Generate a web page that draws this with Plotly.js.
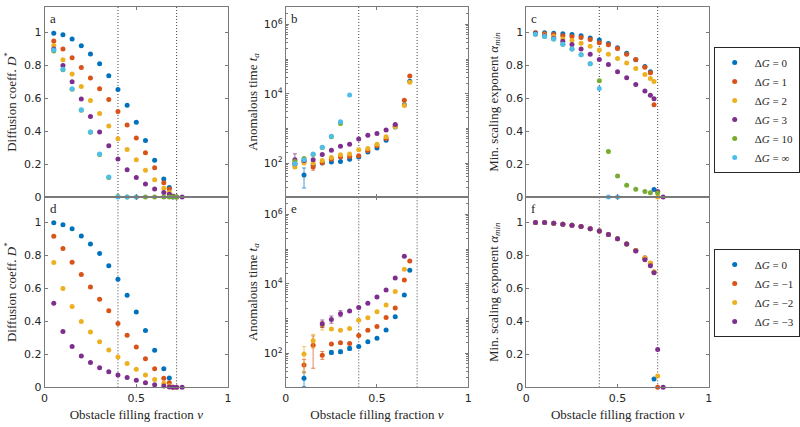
<!DOCTYPE html>
<html>
<head>
<meta charset="utf-8">
<script src="https://cdn.plot.ly/plotly-3.0.1.min.js"></script>
<style>html,body{margin:0;padding:0;background:#fff;}#chart{width:800px;height:427px;}</style>
</head>
<body>
<div id="chart"></div>
<script>
// ---- data ----
const nu = [0.05,0.1,0.15,0.2,0.25,0.3,0.35,0.4,0.45,0.5,0.55,0.6,0.65,0.68,0.7,0.72,0.75];
const thresholds = [0.4, 0.72];

const posLabels = ['Δ<i>G</i> = 0','Δ<i>G</i> = 1','Δ<i>G</i> = 2','Δ<i>G</i> = 3','Δ<i>G</i> = 10','Δ<i>G</i> = ∞'];
const negLabels = ['Δ<i>G</i> = 0','Δ<i>G</i> = −1','Δ<i>G</i> = −2','Δ<i>G</i> = −3'];
const colors = ['#0072BD','#D95319','#EDB120','#7E2F8E','#77AC30','#4DBEEE'];

// panel a: D* for positive dG
const DA_0   = [0.995,0.986,0.96,0.919,0.87,0.81,0.737,0.654,0.557,0.455,0.344,0.223,0.109,0.057,0,null,null];
const DA_1   = [0.949,0.90,0.846,0.787,0.723,0.658,0.593,0.52,0.437,0.358,0.269,0.178,0.087,0.049,0.005,null,null];
const DA_2   = [0.921,0.834,0.747,0.672,0.587,0.508,0.431,0.354,0.289,0.227,0.162,0.105,0.053,0.028,0.003,0,null];
const DA_3   = [0.90,0.80,0.70,0.595,0.49,0.395,0.312,0.231,0.166,0.119,0.079,0.049,0.028,0.016,0.004,0,0];
const DA_10  = [0.888,0.774,0.655,0.528,0.393,0.259,0.119,0.003,0,0,0,0,0,0,0,0,null];
const DA_inf = [0.893,0.777,0.658,0.53,0.395,0.261,0.121,0,0,0,null,null,null,null,null,null,null];

// panel b: anomalous time t_a for positive dG
const TB_0   = [95,45,88,100,107,110,129,148,209,269,457,1100,4800,22900,null,null,null];
const TB_1   = [90,112,77,102,129,148,155,162,229,316,513,1200,6460,32400,null,null,null];
const TB_2   = [77,100,100,119,145,174,182,240,263,347,575,1120,4570,21400,null,null,null];
const TB_3   = [124,118,124,177,234,306,347,490,630,708,890,1290,null,null,null,null,null];
const TB_10  = [110,135,175,280,575,1380,null,null,null,null,null,null,null,null,null,null,null];
const TB_inf = [96,124,181,286,590,1550,9100,null,null,null,null,null,null,null,null,null,null];
const TB_3_errPlus  = [60,0,0,0,0,0,0,0,0,0,0,0,0,0,0,0,0];
const TB_3_errMinus = [40,0,0,0,0,0,0,0,0,0,0,0,0,0,0,0,0];
const TB_0_errPlus  = [0,27,0,0,0,0,0,0,0,0,0,0,0,0,0,0,0];
const TB_0_errMinus = [0,26,0,0,0,0,0,0,0,0,0,0,0,0,0,0,0];
const TB_1_errPlus  = [25,0,20,0,0,0,0,0,0,0,0,0,0,0,0,0,0];
const TB_1_errMinus = [20,0,15,0,0,0,0,0,0,0,0,0,0,0,0,0,0];

// panel c: alpha_min for positive dG
const AC_0   = [0.999,0.998,0.996,0.993,0.988,0.98,0.966,0.955,0.933,0.907,0.874,0.834,0.794,0.761,0.045,null,null];
const AC_1   = [0.998,0.992,0.988,0.98,0.976,0.97,0.957,0.937,0.925,0.903,0.868,0.836,0.789,0.755,0.561,null,null];
const AC_2   = [0.998,0.985,0.975,0.96,0.951,0.935,0.917,0.893,0.868,0.842,0.814,0.781,0.745,0.72,0.702,0,null];
const AC_3   = [0.995,0.98,0.965,0.947,0.927,0.899,0.868,0.836,0.806,0.761,0.725,0.684,0.644,0.619,0.597,0.034,0];
const AC_10  = [0.99,0.976,0.96,0.929,0.899,0.864,0.81,0.706,0.277,0.128,0.071,0.047,0.034,0.026,null,0.024,null];
const AC_inf = [0.99,0.976,0.96,0.929,0.899,0.864,0.81,0.66,0,0,null,null,null,null,null,null,null];

// panel d: D* for negative dG
const DD_0  = [0.998,0.986,0.962,0.919,0.870,0.812,0.737,0.656,0.559,0.457,0.344,0.225,0.113,0.057,null,null,null];
const DD_m1 = [0.917,0.842,0.759,0.684,0.609,0.534,0.464,0.387,0.316,0.245,0.174,0.113,0.055,0.028,0,null,null];
const DD_m2 = [0.757,0.60,0.49,0.399,0.336,0.277,0.227,0.184,0.144,0.109,0.075,0.047,0.024,0.01,0,0,null];
const DD_m3 = [0.51,0.338,0.247,0.19,0.15,0.119,0.095,0.075,0.059,0.043,0.028,0.016,0.008,0.002,0,0,0];

// panel e: anomalous time t_a for negative dG
const TE_0  = [null,19,null,null,105,110,137,156,213,272,464,1130,4780,24500,null,null,null];
const TE_m1 = [null,46,170,87,186,200,191,324,457,589,1070,2000,12900,45700,null,null,null];
const TE_m2 = [null,95,229,617,501,457,513,891,1050,1580,2450,6030,26300,null,null,null,null];
const TE_m3 = [null,null,null,708,933,1380,1660,2090,2750,4170,6610,14800,61700,null,null,null,null];
const TE_0_errPlus   = [0,10,0,0,15,15,20,0,0,0,0,0,0,0,0,0,0];
const TE_0_errMinus  = [0,8,0,0,12,12,15,0,0,0,0,0,0,0,0,0,0];
const TE_m1_errPlus  = [0,20,146,25,0,0,0,0,0,0,0,0,0,0,0,0,0];
const TE_m1_errMinus = [0,18,133,20,0,0,0,0,0,0,0,0,0,0,0,0,0];
const TE_m2_errPlus  = [0,60,120,200,0,0,0,0,0,0,0,0,0,0,0,0,0];
const TE_m2_errMinus = [0,68,90,150,0,0,0,0,0,0,0,0,0,0,0,0,0];
const TE_m3_errPlus  = [0,0,0,200,250,300,0,0,0,0,0,0,0,0,0,0,0];
const TE_m3_errMinus = [0,0,0,150,200,250,0,0,0,0,0,0,0,0,0,0,0];

// panel f: alpha_min for negative dG
const AF_0  = [1,1,0.996,0.99,0.984,0.976,0.962,0.948,0.927,0.901,0.869,0.831,0.78,0.75,0.05,null,null];
const AF_m1 = [1,1,0.996,0.99,0.984,0.976,0.962,0.948,0.927,0.901,0.869,0.831,0.786,0.752,0.70,0,null];
const AF_m2 = [1,1,0.996,0.99,0.984,0.976,0.962,0.948,0.927,0.901,0.869,0.829,0.784,0.754,0.70,0.069,null];
const AF_m3 = [1,1,0.996,0.99,0.984,0.976,0.962,0.948,0.927,0.901,0.869,0.828,0.774,0.738,0.695,0.23,0];

const logTickVals = [100, 10000, 1000000];
const logTickText = ['10<sup>2</sup>','10<sup>4</sup>','10<sup>6</sup>'];
const linTickVals = [0,0.2,0.4,0.6,0.8,1];
const linTickText = ['0','0.2','0.4','0.6','0.8','1'];
const xTickVals = [0,0.5,1];
const xTickText = ['0','0.5','1'];

// ---- traces ----
const traces = [];
function addSeries(ys, i, xa, ya, name, legend, showleg, errP, errM) {
  const t = {
    x: nu, y: ys, type: 'scatter', mode: 'markers',
    xaxis: xa, yaxis: ya, name: name, legendgroup: legend + name,
    legend: legend, showlegend: showleg,
    marker: {color: colors[i], size: 5},
    cliponaxis: false
  };
  if (errP) {
    t.error_y = {type: 'data', symmetric: false, array: errP, arrayminus: errM,
                 color: colors[i], thickness: 0.7, width: 2, visible: true};
  }
  traces.push(t);
}
const posA = [DA_0, DA_1, DA_2, DA_3, DA_10, DA_inf];
const posB = [TB_0, TB_1, TB_2, TB_3, TB_10, TB_inf];
const posC = [AC_0, AC_1, AC_2, AC_3, AC_10, AC_inf];
const posBerr = [[TB_0_errPlus,TB_0_errMinus],[TB_1_errPlus,TB_1_errMinus],null,[TB_3_errPlus,TB_3_errMinus],null,null];
for (let i = 0; i < 6; i++) {
  addSeries(posA[i], i, 'x', 'y', posLabels[i], 'legend', false);
  const e = posBerr[i];
  addSeries(posB[i], i, 'x2', 'y2', posLabels[i], 'legend', false, e ? e[0] : null, e ? e[1] : null);
  addSeries(posC[i], i, 'x3', 'y3', posLabels[i], 'legend', true);
}
const negD = [DD_0, DD_m1, DD_m2, DD_m3];
const negE = [TE_0, TE_m1, TE_m2, TE_m3];
const negEerr = [[TE_0_errPlus,TE_0_errMinus],[TE_m1_errPlus,TE_m1_errMinus],[TE_m2_errPlus,TE_m2_errMinus],[TE_m3_errPlus,TE_m3_errMinus]];
const negF = [AF_0, AF_m1, AF_m2, AF_m3];
for (let i = 0; i < 4; i++) {
  addSeries(negD[i], i, 'x4', 'y4', negLabels[i], 'legend2', false);
  addSeries(negE[i], i, 'x5', 'y5', negLabels[i], 'legend2', false, negEerr[i][0], negEerr[i][1]);
  addSeries(negF[i], i, 'x6', 'y6', negLabels[i], 'legend2', true);
}

// ---- layout ----
const W = 800, H = 427;
const colPx = [[45,230],[288.3,472.3],[531,715]];
const rowPx = [[7,197],[197,387.3]];
const serif = 'Liberation Serif, Times New Roman, serif';
const sans = 'DejaVu Sans, Arial, sans-serif';
const axisCol = '#7a7a7a';
const textCol = '#262626';

function xAx(col, row) {
  const ax = {
    domain: [colPx[col][0]/W, colPx[col][1]/W],
    anchor: 'y' + (row*3+col+1 === 1 ? '' : row*3+col+1),
    range: [0, 1], tickvals: xTickVals, ticktext: xTickText,
    showticklabels: row === 1,
    ticks: 'inside', ticklen: 3, tickcolor: axisCol,
    showline: true, linecolor: axisCol, linewidth: 1, mirror: 'ticks',
    showgrid: false, zeroline: false, automargin: false,
    tickfont: {family: sans, size: 11, color: textCol}
  };
  if (row === 1) {
    ax.title = {text: 'Obstacle filling fraction <i>ν</i>', font: {family: serif, size: 13, color: textCol}, standoff: 6};
  }
  return ax;
}
function yAx(col, row) {
  const n = row*3+col+1;
  const base = {
    domain: [1 - rowPx[row][1]/H, 1 - rowPx[row][0]/H],
    anchor: 'x' + (n === 1 ? '' : n),
    ticks: 'inside', ticklen: 3, tickcolor: axisCol,
    showline: true, linecolor: axisCol, linewidth: 1, mirror: 'ticks',
    showgrid: false, zeroline: false, automargin: false,
    tickfont: {family: sans, size: 11, color: textCol}
  };
  if (col === 1) {
    Object.assign(base, {type: 'log', range: [1.02, 6.5], tickvals: logTickVals, ticktext: logTickText,
      minor: {ticks: 'inside', ticklen: 2, tickcolor: axisCol, dtick: 'D1', showgrid: false},
      title: {text: 'Anomalous time <i>t<sub>a</sub></i>', font: {family: serif, size: 13, color: textCol}, standoff: 3}});
  } else if (col === 0) {
    Object.assign(base, {range: [0, 1.155], tickvals: linTickVals, ticktext: linTickText,
      title: {text: 'Diffusion coeff. <i>D</i><sup>*</sup>', font: {family: serif, size: 13, color: textCol}, standoff: 4}});
  } else {
    Object.assign(base, {range: [0, 1.155], tickvals: linTickVals, ticktext: linTickText,
      title: {text: 'Min. scaling exponent <i>α<sub>min</sub></i>', font: {family: serif, size: 13, color: textCol}, standoff: 4}});
  }
  return base;
}

const legendStyle = {xanchor: 'left', yanchor: 'top',
  bgcolor: '#fff', bordercolor: '#262626', borderwidth: 1,
  font: {family: serif, size: 11, color: textCol}, tracegroupgap: 0, itemwidth: 30};
const layout = {
  width: W, height: H,
  margin: {l: 0, r: 0, t: 0, b: 0},
  paper_bgcolor: '#fff', plot_bgcolor: '#fff',
  showlegend: true,
  legend: Object.assign({x: 720/W, y: 1 - 47/H}, legendStyle),
  legend2: Object.assign({x: 720/W, y: 1 - 249/H}, legendStyle),
  shapes: [], annotations: []
};
const letters = ['a','b','c','d','e','f'];
for (let row = 0; row < 2; row++) {
  for (let col = 0; col < 3; col++) {
    const n = row*3+col+1;
    const s = n === 1 ? '' : String(n);
    layout['xaxis' + s] = xAx(col, row);
    layout['yaxis' + s] = yAx(col, row);
    thresholds.forEach(th => {
      layout.shapes.push({type: 'line', xref: 'x' + s, yref: 'y' + s + ' domain',
        x0: th, x1: th, y0: 0, y1: 1, line: {color: '#444', width: 1, dash: '1px,2px'}, layer: 'below'});
    });
    layout.annotations.push({text: letters[n-1], xref: 'x' + s + ' domain', yref: 'y' + s + ' domain',
      x: 0, y: 1, xanchor: 'left', yanchor: 'top', xshift: 3, yshift: -2, showarrow: false,
      font: {family: serif, size: 13, color: textCol}});
  }
}

Plotly.newPlot('chart', traces, layout, {displayModeBar: false, staticPlot: true});
</script>
</body>
</html>
